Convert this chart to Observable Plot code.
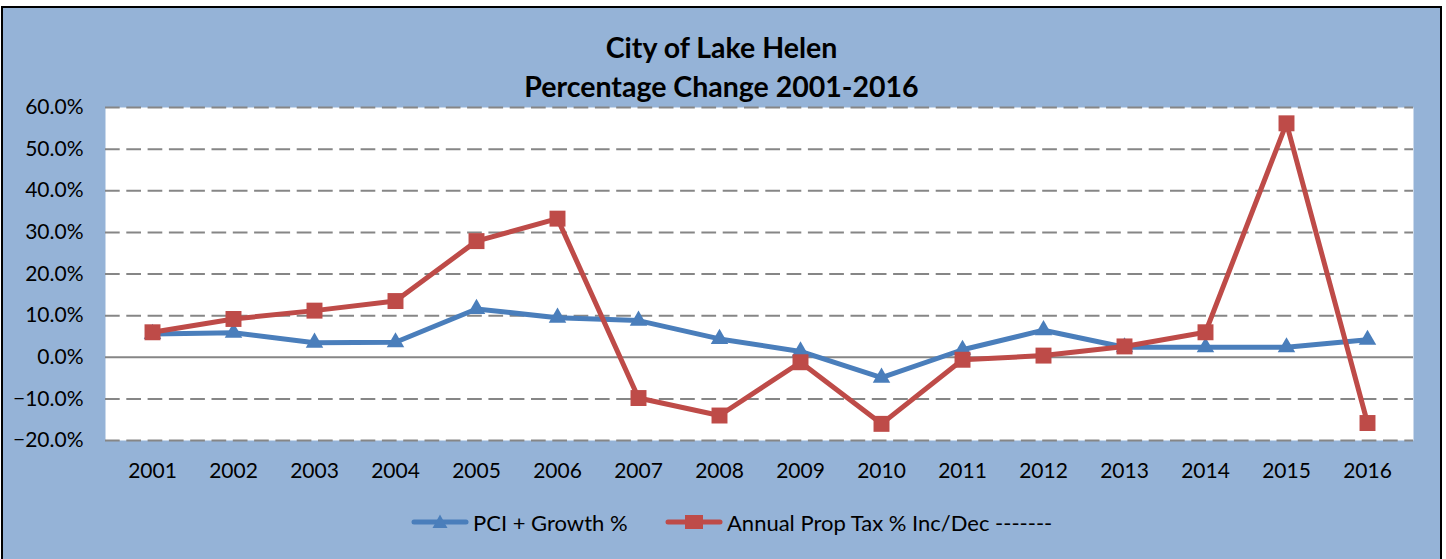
<!DOCTYPE html>
<html>
<head>
<meta charset="utf-8">
<script src="https://cdn.jsdelivr.net/npm/d3@7"></script>
<script src="https://cdn.jsdelivr.net/npm/@observablehq/plot@0.6"></script>
<style>
  html, body { margin: 0; padding: 0; background: #ffffff; }
  #chart {
    position: absolute; left: 1px; top: 6px; width: 1437px; height: 560px;
    border: 2px solid #000; border-bottom: none; background: #95B3D7;
    font-family: Lato, "Open Sans", sans-serif; color: #000;
  }
  #title {
    position: absolute; left: 0; top: 20px; width: 100%; text-align: center;
    font-weight: 700; font-size: 28.5px; line-height: 39px;
  }
  #plot { position: absolute; left: 0; top: 0; }
  #legend {
    position: absolute; top: 499px; left: 0; width: 100%; height: 30px;
    font-size: 22px;
  }
  .item { position: absolute; top: 0; display: flex; align-items: center; height: 30px; }
  .item svg { margin-right: 4px; }
</style>
</head>
<body>
<div id="chart">
  <div id="plot"></div>
  <div id="title">City of Lake Helen<br>Percentage Change 2001-2016</div>
  <div id="legend"></div>
</div>
<script>
const years = ["2001","2002","2003","2004","2005","2006","2007","2008","2009","2010","2011","2012","2013","2014","2015","2016"];
const pciGrowth = [0.056, 0.059, 0.035, 0.036, 0.116, 0.095, 0.088, 0.044, 0.014, -0.049, 0.018, 0.065, 0.024, 0.024, 0.024, 0.042];
const propTax = [0.060, 0.092, 0.112, 0.135, 0.279, 0.333, -0.098, -0.140, -0.012, -0.160, -0.006, 0.004, 0.026, 0.060, 0.562, -0.158];
const yTicks = [-0.2, -0.1, 0, 0.1, 0.2, 0.3, 0.4, 0.5, 0.6];
const seriesNames = ["PCI + Growth %", "Annual Prop Tax % Inc/Dec -------"];
const blue = "#4A7EBB", red = "#BE4B48";

const pciData = years.map((y, i) => ({year: y, value: pciGrowth[i]}));
const taxData = years.map((y, i) => ({year: y, value: propTax[i]}));

const plot = Plot.plot({
  width: 1437,
  height: 480,
  marginLeft: 102,
  marginRight: 27,
  marginTop: 99,
  marginBottom: 48,
  style: {background: "transparent", fontFamily: "Lato, 'Open Sans', sans-serif", fontSize: "21px", color: "#000"},
  x: {type: "point", domain: years, padding: 0.5, label: null},
  y: {domain: [-0.2, 0.6], label: null},
  marks: [
    Plot.frame({fill: "white", stroke: null}),
    Plot.ruleY(yTicks.filter(t => t !== 0), {stroke: "#868686", strokeWidth: 2, strokeDasharray: "14.7,6.6", strokeOpacity: 1}),
    Plot.ruleY([0], {stroke: "#868686", strokeWidth: 2, strokeOpacity: 1}),
    Plot.axisY({ticks: yTicks, tickFormat: d3.format(".1%"), tickSize: 0, tickPadding: 22, fontSize: 21, label: null}),
    Plot.axisX({tickSize: 0, tickPadding: 23, fontSize: 21, label: null}),
    Plot.line(pciData, {x: "year", y: "value", stroke: blue, strokeWidth: 5, strokeLinejoin: "round"}),
    Plot.dot(pciData, {x: "year", y: "value", symbol: "triangle", r: 6.5, fill: blue, stroke: null}),
    Plot.line(taxData, {x: "year", y: "value", stroke: red, strokeWidth: 5, strokeLinejoin: "round"}),
    Plot.dot(taxData, {x: "year", y: "value", symbol: "square", r: 9, fill: red, stroke: null})
  ]
});
document.getElementById("plot").appendChild(plot);

// legend
const legend = document.getElementById("legend");
const items = [
  {name: seriesNames[0], color: blue, sym: "tri", left: 408},
  {name: seriesNames[1], color: red, sym: "sq", left: 662}
];
for (const it of items) {
  const div = document.createElement("div");
  div.className = "item";
  div.style.left = it.left + "px";
  const marker = it.sym === "tri"
    ? `<path d="M29,7.5 L36.5,21 L21.5,21 Z" fill="${it.color}"/>`
    : `<rect x="20" y="8" width="18" height="14" fill="${it.color}"/>`;
  div.innerHTML = `<svg width="58" height="30"><line x1="3" x2="55" y1="15" y2="15" stroke="${it.color}" stroke-width="5" stroke-linecap="round"/>${marker}</svg><span>${it.name}</span>`;
  legend.appendChild(div);
}
</script>
</body>
</html>
